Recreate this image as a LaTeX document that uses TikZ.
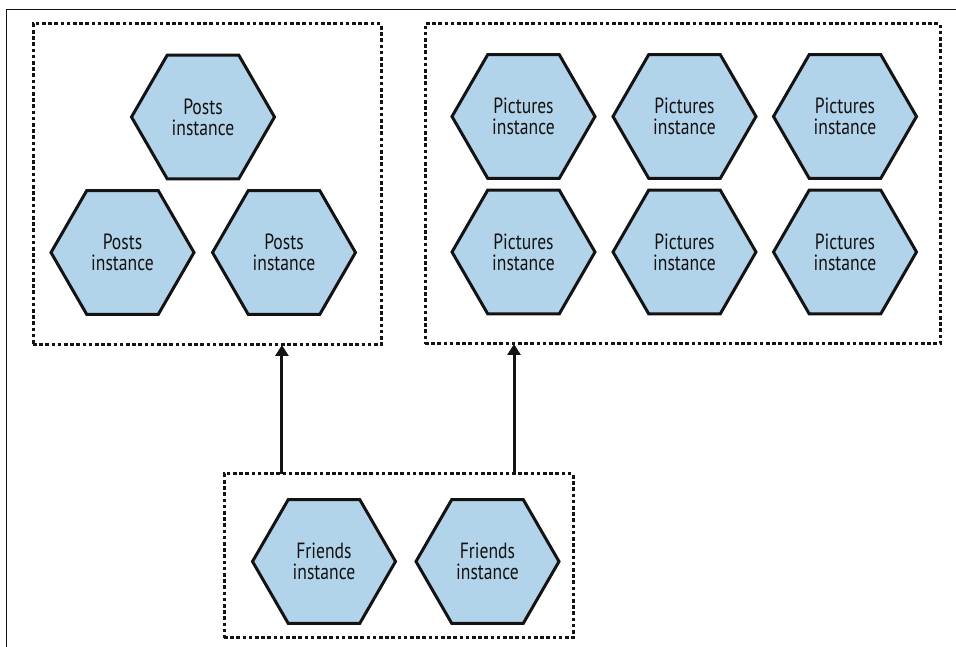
\documentclass[tikz,border=0pt]{standalone}
\usepackage{fontspec}
\setmainfont[FakeStretch=0.8]{PT Sans}
\usepackage{tikz}
\usetikzlibrary{shapes.geometric}
\usetikzlibrary{arrows.meta}
\usetikzlibrary{calc}

\definecolor{hexblue}{RGB}{178,212,234}
\definecolor{inkgray}{RGB}{20,18,18}

\begin{document}
\begin{tikzpicture}[line cap=butt,line join=miter,x=1pt,y=1pt,
    hex/.style={regular polygon, regular polygon sides=6, minimum size=143pt, inner sep=0pt,
      draw=inkgray, line width=3pt, fill=hexblue, align=center, text=inkgray,
      font=\fontsize{22}{21}\selectfont},
    group/.style={rectangle, draw=inkgray, line width=3pt, dash pattern=on 3.6pt off 2.6pt,
      inner sep=0pt, outer sep=0pt},
    arr/.style={draw=inkgray, line width=3pt, -{Triangle[length=11pt,width=13pt]}}]
                        \useasboundingbox (0,0) rectangle (956,647);
                        \draw [line width=0.9pt, inkgray] (956,638) -- (6,638) -- (6,0);

                        \node[group, minimum width=348pt, minimum height=321pt] (postsbox) at (207,462.5) {};
                        \node[group, minimum width=515pt, minimum height=320pt] (picsbox) at (682.5,463) {};
                        \node[group, minimum width=349pt, minimum height=164pt] (friendsbox) at (398.5,91) {};

                        \node[hex] (post1) at (203,530) {Posts\\instance};
                        \node[hex] (post2) at (122.5,394.5) {Posts\\instance};
                        \node[hex] (post3) at (284,394.5) {Posts\\instance};

                        \node[hex] (pic1) at (523.5,530.5) {Pictures\\instance};
                        \node[hex] (pic2) at (684.5,530.5) {Pictures\\instance};
                        \node[hex] (pic3) at (845,530.5) {Pictures\\instance};
                        \node[hex] (pic4) at (523.5,395) {Pictures\\instance};
                        \node[hex] (pic5) at (684.5,395) {Pictures\\instance};
                        \node[hex] (pic6) at (845,395) {Pictures\\instance};

                        \node[hex] (friend1) at (324,85.5) {Friends\\instance};
                        \node[hex] (friend2) at (487.5,85.5) {Friends\\instance};

                        \coordinate (out1) at ($(friendsbox.north west)!0.166!(friendsbox.north east)$);
                        \coordinate (out2) at ($(friendsbox.north west)!0.831!(friendsbox.north east)$);
                        \draw [arr] (out1) -- (out1 |- postsbox.south);
                        \draw [arr] (out2) -- (out2 |- picsbox.south);
                    \end{tikzpicture}
\end{document}
